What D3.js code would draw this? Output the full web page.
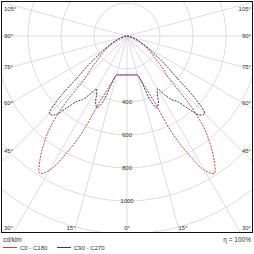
<!DOCTYPE html>
<html>
<head>
<meta charset="utf-8">
<script src="https://cdn.jsdelivr.net/npm/d3@7"></script>
<style>
  body { margin: 0; background: #fff; }
  text { font-family: "Liberation Sans", Arial, sans-serif; fill: #333; }
</style>
</head>
<body>
<svg id="ldc"></svg>
<script>
// luminous intensity, cd/klm, same on both sides of each plane
let gammas = [0, 5, 10, 15, 17.5, 20, 22.5, 25, 27.5, 30, 32.5, 35, 37.5, 40, 42.5, 45, 47.5, 50, 52.5, 55, 60, 65, 70, 75, 80, 85, 90];
let c0c180 = [236, 237, 240, 246, 285, 340, 430, 650, 810, 940, 985, 920, 830, 725, 560, 350, 300, 245, 210, 180, 130, 85, 50, 28, 14, 5, 0];
let c90c270 = [236, 237, 240, 246, 285, 420, 470, 450, 400, 370, 420, 470, 500, 570, 650, 665, 560, 395, 310, 240, 150, 95, 55, 30, 15, 5, 0];
let rings = [200, 400, 600, 800, 1000, 1200, 1400];
let ringLabels = [400, 600, 800, 1000];
let spokes = [0, 15, 30, 45, 60, 75, 90, 105];
let sideLabels = [105, 90, 75, 60, 45];
let bottomLabels = [30, 15, 0, 15, 30];
let seriesNames = ["C0 - C180", "C90 - C270"];
let colors = ["#c8282a", "#1e1e78"];

let W = 254, H = 254,
  frame = { left: 1.5, top: 1.5, right: 252.5, bottom: 232.5 },
  cx = 127, cy = 36;

let svg = d3.select("#ldc").attr("width", W).attr("height", H);

let rScale = d3.scaleLinear().domain([0, 1000]).range([0, 165]);

svg.append("clipPath").attr("id", "clip")
  .append("rect")
  .attr("x", frame.left).attr("y", frame.top)
  .attr("width", frame.right - frame.left).attr("height", frame.bottom - frame.top);

let grid = svg.append("g").attr("clip-path", "url(#clip)");

grid.selectAll(".ring")
  .data(rings)
  .enter()
  .append("circle")
  .attr("cx", cx).attr("cy", cy)
  .attr("r", (d) => rScale(d))
  .attr("fill", "none")
  .attr("stroke", "#d4d4d4")
  .attr("stroke-width", 0.8);

// spokes both sides, gamma measured from straight down
let spokeAngles = [];
spokes.forEach((s) => { spokeAngles.push(s); if (s > 0) spokeAngles.push(-s); });
grid.selectAll(".spoke")
  .data(spokeAngles)
  .enter()
  .append("line")
  .attr("x1", cx).attr("y1", cy)
  .attr("x2", (d) => cx + 400 * Math.sin(d * Math.PI / 180))
  .attr("y2", (d) => cy + 400 * Math.cos(d * Math.PI / 180))
  .attr("stroke", "#d4d4d4")
  .attr("stroke-width", 0.8);

// curves
let curveG = svg.append("g").attr("transform", "translate(" + cx + "," + cy + ")");
let radial = d3.lineRadial()
  .angle((d) => d[0])
  .radius((d) => rScale(d[1]))
  .curve(d3.curveCatmullRom.alpha(0.5));

function fullPlane(values) {
  let pts = [];
  for (let i = gammas.length - 1; i >= 0; i--) pts.push([Math.PI - gammas[i] * Math.PI / 180, values[i]]);
  for (let i = 1; i < gammas.length; i++) pts.push([Math.PI + gammas[i] * Math.PI / 180, values[i]]);
  return pts;
}

[c0c180, c90c270].forEach((vals, i) => {
  curveG.append("path")
    .attr("d", radial(fullPlane(vals)))
    .attr("fill", "none")
    .attr("stroke", colors[i])
    .attr("stroke-width", 0.9)
    .attr("stroke-dasharray", "2,1.2");
});

// ring labels
svg.selectAll(".ringLabel")
  .data(ringLabels)
  .enter()
  .append("text")
  .attr("x", cx)
  .attr("y", (d) => cy + rScale(d) + 2)
  .attr("text-anchor", "middle")
  .attr("font-size", "6px")
  .text((d) => d);

// angle labels at the frame sides
sideLabels.forEach((a) => {
  let yHit = cy + (cx - frame.left) / Math.tan(a * Math.PI / 180);
  let y = Math.max(9, cy + 0.92 * (yHit - cy)) + 2;
  svg.append("text").attr("x", 4).attr("y", y).attr("font-size", "6px").text(a + "°");
  svg.append("text").attr("x", 251).attr("y", y).attr("text-anchor", "end").attr("font-size", "6px").text(a + "°");
});

svg.selectAll(".bottomLabel")
  .data(bottomLabels)
  .enter()
  .append("text")
  .attr("x", (d, i) => (i === 0 ? 4 : i === bottomLabels.length - 1 ? 251 : cx + (i - 2) * 56))
  .attr("y", 230)
  .attr("text-anchor", (d, i) => (i === 0 ? "start" : i === bottomLabels.length - 1 ? "end" : "middle"))
  .attr("font-size", "6px")
  .text((d) => d + "°");

svg.append("rect")
  .attr("x", frame.left).attr("y", frame.top)
  .attr("width", frame.right - frame.left).attr("height", frame.bottom - frame.top)
  .attr("fill", "none")
  .attr("stroke", "#111")
  .attr("stroke-width", 1);

// legend
svg.append("text").attr("x", 3).attr("y", 242).attr("font-size", "6.5px").text("cd/klm");
svg.append("text").attr("x", 251).attr("y", 242).attr("text-anchor", "end").attr("font-size", "6.5px").text("η = 100%");
let legendX = [3, 57];
seriesNames.forEach((name, i) => {
  svg.append("line")
    .attr("x1", legendX[i]).attr("x2", legendX[i] + 14)
    .attr("y1", 247.5).attr("y2", 247.5)
    .attr("stroke", colors[i]).attr("stroke-width", 0.9);
  svg.append("text").attr("x", legendX[i] + 17).attr("y", 249.5).attr("font-size", "6px").text(name);
});
</script>
</body>
</html>
